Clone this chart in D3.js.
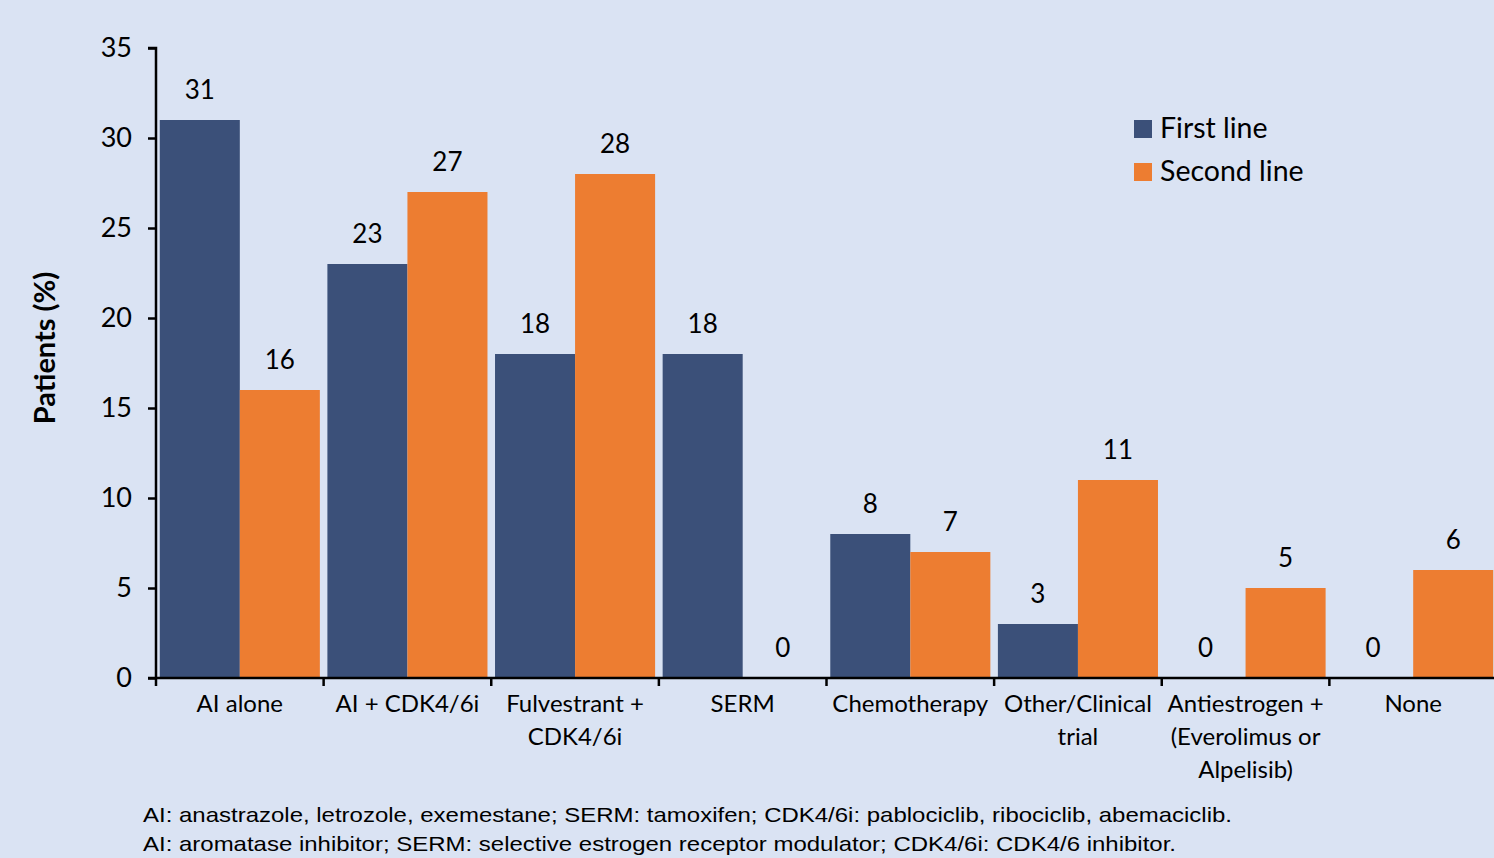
<!DOCTYPE html>
<html>
<head>
<meta charset="utf-8">
<script src="https://cdn.jsdelivr.net/npm/d3@7"></script>
<style>
  html, body { margin: 0; padding: 0; background: #dae3f3; }
  svg { display: block; }
</style>
</head>
<body>
<svg id="chart" width="1494" height="858"></svg>
<script>
// Treatment categories (multi-line labels split by "\n")
const categories = [
  "AI alone",
  "AI + CDK4/6i",
  "Fulvestrant +\nCDK4/6i",
  "SERM",
  "Chemotherapy",
  "Other/Clinical\ntrial",
  "Antiestrogen +\n(Everolimus or\nAlpelisib)",
  "None"
];
const seriesNames = ["First line", "Second line"];
const firstLine  = [31, 23, 18, 18, 8, 3, 0, 0];
const secondLine = [16, 27, 28, 0, 7, 11, 5, 6];
const yTicks = [0, 5, 10, 15, 20, 25, 30, 35];
const footnotes = [
  "AI: anastrazole, letrozole, exemestane; SERM: tamoxifen; CDK4/6i: pablociclib, ribociclib, abemaciclib.",
  "AI: aromatase inhibitor; SERM: selective estrogen receptor modulator; CDK4/6i: CDK4/6 inhibitor."
];
const footnoteWidths = [1089, 1033];

const colors = ["#3b5079", "#ed7d31"];
const font = "Lato, 'Open Sans', sans-serif";

const svg = d3.select("#chart");
svg.append("rect").attr("width", 1494).attr("height", 858).attr("fill", "#dae3f3");

const plotLeft = 156, plotRight = 1497, plotTop = 48, plotBottom = 678;

const x0 = d3.scaleBand().domain(categories).range([plotLeft, plotRight]).paddingInner(0.045).paddingOuter(0.0225);
const x1 = d3.scaleBand().domain(seriesNames).range([0, x0.bandwidth()]);
const y = d3.scaleLinear().domain([0, 35]).range([plotBottom, plotTop]);

const rows = categories.map((c, i) => ({ cat: c, vals: [firstLine[i], secondLine[i]] }));

const g = svg.append("g");
const groups = g.selectAll("g.grp").data(rows).join("g")
  .attr("class", "grp")
  .attr("transform", d => `translate(${x0(d.cat)},0)`);

groups.selectAll("rect").data(d => d.vals.map((v, j) => ({ v, s: seriesNames[j], j })))
  .join("rect")
  .attr("x", d => x1(d.s))
  .attr("width", x1.bandwidth())
  .attr("y", d => y(d.v))
  .attr("height", d => y(0) - y(d.v))
  .attr("fill", d => colors[d.j]);

groups.selectAll("text.val").data(d => d.vals.map((v, j) => ({ v, s: seriesNames[j] })))
  .join("text")
  .attr("class", "val")
  .attr("x", d => x1(d.s) + x1.bandwidth() / 2)
  .attr("y", d => y(d.v) - 21)
  .attr("text-anchor", "middle")
  .attr("font-family", font)
  .attr("font-size", 26)
  .attr("fill", "#000")
  .text(d => d.v);

// Y axis
const yAxis = svg.append("g")
  .attr("transform", `translate(${plotLeft},0)`)
  .call(d3.axisLeft(y).tickValues(yTicks).tickSize(8).tickPadding(16));
yAxis.select(".domain").attr("stroke", "#000").attr("stroke-width", 2.5).attr("d", `M-8,${plotTop}H0V${plotBottom}`);
yAxis.selectAll(".tick line").attr("stroke", "#000").attr("stroke-width", 2.5);
yAxis.selectAll(".tick text").attr("font-family", font).attr("font-size", 27).attr("fill", "#000");

// X axis with ticks at category boundaries
const xAxisG = svg.append("g").attr("transform", `translate(0,${plotBottom})`);
xAxisG.append("line").attr("x1", plotLeft - 8).attr("x2", plotRight).attr("y1", 0).attr("y2", 0)
  .attr("stroke", "#000").attr("stroke-width", 2.5);
const boundaries = categories.map((c, i) => plotLeft + i * (plotRight - plotLeft) / categories.length);
xAxisG.selectAll("line.tk").data(boundaries).join("line")
  .attr("class", "tk")
  .attr("x1", d => d).attr("x2", d => d).attr("y1", 0).attr("y2", 8)
  .attr("stroke", "#000").attr("stroke-width", 2.5);

const xl = xAxisG.selectAll("text.cat").data(categories).join("text")
  .attr("class", "cat")
  .attr("x", d => x0(d) + x0.bandwidth() / 2)
  .attr("y", 34)
  .attr("text-anchor", "middle")
  .attr("font-family", font)
  .attr("font-size", 24)
  .attr("fill", "#000");
xl.each(function(d) {
  const t = d3.select(this);
  d.split("\n").forEach((line, k) => {
    t.append("tspan").attr("x", x0(d) + x0.bandwidth() / 2).attr("dy", k === 0 ? 0 : 33).text(line);
  });
});

// Y axis title
svg.append("text")
  .attr("transform", `translate(55,348) rotate(-90)`)
  .attr("text-anchor", "middle")
  .attr("font-family", font)
  .attr("font-size", 29)
  .attr("font-weight", "bold")
  .attr("fill", "#000")
  .text("Patients (%)");

// Legend
const legend = svg.append("g").attr("transform", "translate(1134,120)");
seriesNames.forEach((name, i) => {
  legend.append("rect").attr("x", 0).attr("y", i * 43).attr("width", 18).attr("height", 18).attr("fill", colors[i]);
  legend.append("text").attr("x", 26).attr("y", i * 43 + 18)
    .attr("font-family", font).attr("font-size", 28.5).attr("fill", "#000").text(name);
});

// Footnotes
svg.selectAll("text.fn").data(footnotes).join("text")
  .attr("class", "fn")
  .attr("x", 143)
  .attr("y", (d, i) => 822 + i * 29)
  .attr("font-family", "'Liberation Sans', Arial, sans-serif")
  .attr("font-size", 21)
  .attr("textLength", (d, i) => footnoteWidths[i])
  .attr("lengthAdjust", "spacingAndGlyphs")
  .attr("fill", "#000")
  .text(d => d);
</script>
</body>
</html>
